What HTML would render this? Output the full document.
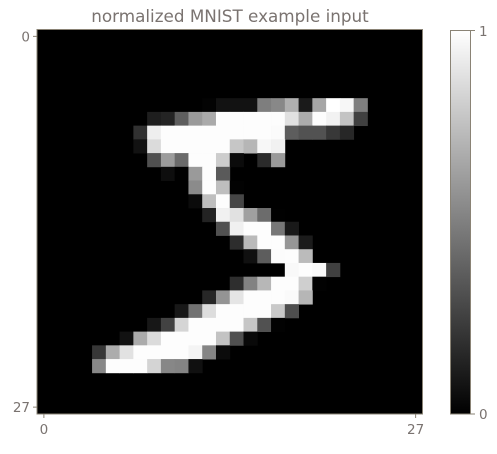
<!DOCTYPE html>
<html><head><meta charset="utf-8"><style>
body{margin:0;background:#fff;}
svg text{font-family:"DejaVu Sans","Liberation Sans",sans-serif;fill:#7a7370;font-size:13.5px;}
</style></head><body>
<svg id="chart" width="497" height="449" xmlns="http://www.w3.org/2000/svg">
<defs><linearGradient id="cb" x1="0" y1="1" x2="0" y2="0"><stop offset="0" stop-color="#000"/><stop offset="1" stop-color="#fff"/></linearGradient></defs>
<text x="230" y="22" text-anchor="middle" style="font-size:16.8px">normalized MNIST example input</text>
<g id="cells"></g>
<rect x="37" y="29.5" width="385.5" height="384.5" fill="none" stroke="#8a8375" stroke-width="1"/>
<g id="axes"></g>
<rect x="450.5" y="30.5" width="20" height="383.5" fill="url(#cb)" stroke="#8a8375" stroke-width="1"/>
<line x1="470.5" y1="30.5" x2="475" y2="30.5" stroke="#8a8375"/>
<line x1="470.5" y1="414" x2="475" y2="414" stroke="#8a8375"/>
<text x="479" y="36">1</text>
<text x="479" y="419">0</text>
</svg>
<script>
const rowData = [
[],[],[],[],[],
[0,0,0,0,0,0,0,0,0,0,0,0,3,18,18,18,126,136,175,26,166,255,247,127],
[0,0,0,0,0,0,0,0,30,36,94,154,170,253,253,253,253,253,225,172,253,242,195,64],
[0,0,0,0,0,0,0,49,238,253,253,253,253,253,253,253,253,251,93,82,82,56,39],
[0,0,0,0,0,0,0,18,219,253,253,253,253,253,198,182,247,241],
[0,0,0,0,0,0,0,0,80,156,107,253,253,205,11,0,43,154],
[0,0,0,0,0,0,0,0,0,14,1,154,253,90],
[0,0,0,0,0,0,0,0,0,0,0,139,253,190,2],
[0,0,0,0,0,0,0,0,0,0,0,11,190,253,70],
[0,0,0,0,0,0,0,0,0,0,0,0,35,241,225,160,108,1],
[0,0,0,0,0,0,0,0,0,0,0,0,0,81,240,253,253,119,25],
[0,0,0,0,0,0,0,0,0,0,0,0,0,0,45,186,253,253,150,27],
[0,0,0,0,0,0,0,0,0,0,0,0,0,0,0,16,93,252,253,187],
[0,0,0,0,0,0,0,0,0,0,0,0,0,0,0,0,0,0,249,253,249,64],
[0,0,0,0,0,0,0,0,0,0,0,0,0,0,46,130,183,253,253,207,2],
[0,0,0,0,0,0,0,0,0,0,0,0,39,148,229,253,253,253,250,182],
[0,0,0,0,0,0,0,0,0,0,24,114,221,253,253,253,253,201,78],
[0,0,0,0,0,0,0,0,23,66,213,253,253,253,253,198,81,2],
[0,0,0,0,0,0,18,171,219,253,253,253,253,195,80,9],
[0,0,0,0,55,172,226,253,253,253,253,244,133,11],
[0,0,0,0,136,253,253,253,212,135,132,16],
[],[],[]
];
const xTicks = [0, 27];
const yTicks = [0, 27];
const N = 28, X0 = 37, Y0 = 29.5, W = 385.5, H = 384.5;
const cw = W / N, ch = H / N;
function xs(c){return X0 + c*cw;}
function ys(r){return Y0 + r*ch;}
const NS = "http://www.w3.org/2000/svg";
const cells = document.getElementById('cells');
const bg = document.createElementNS(NS,'rect');


bg.setAttribute('x', X0); bg.setAttribute('y', Y0); bg.setAttribute('width', W); bg.setAttribute('height', H); bg.setAttribute('fill', '#000');
cells.appendChild(bg);
rowData.forEach((row, r) => {
  row.forEach((v, c) => {
    if (!v) return;
    const g = Math.round(v);
    const el = document.createElementNS(NS,'rect');
    
    
    el.setAttribute('x', xs(c)); el.setAttribute('y', ys(r));
    el.setAttribute('width', cw + 0.4); el.setAttribute('height', ch + 0.4);
    el.setAttribute('fill', `rgb(${g},${g},${g})`);
    cells.appendChild(el);
  });
});
const axes = document.getElementById('axes');
xTicks.forEach(t => {
  const x = xs(t + 0.5);
  const l = document.createElementNS(NS,'line');
  
  
  l.setAttribute('x1', x); l.setAttribute('x2', x); l.setAttribute('y1', Y0 + H); l.setAttribute('y2', Y0 + H + 4); l.setAttribute('stroke', '#8a8375');
  axes.appendChild(l);
  const tx = document.createElementNS(NS,'text');
  
  
  tx.setAttribute('x', x); tx.setAttribute('y', Y0 + H + 20); tx.setAttribute('text-anchor', 'middle');
  tx.textContent = t;
  axes.appendChild(tx);
});
yTicks.forEach(t => {
  const y = ys(t + 0.5);
  const l = document.createElementNS(NS,'line');
  
  
  l.setAttribute('x1', X0 - 4); l.setAttribute('x2', X0); l.setAttribute('y1', y); l.setAttribute('y2', y); l.setAttribute('stroke', '#8a8375');
  axes.appendChild(l);
  const tx = document.createElementNS(NS,'text');
  
  
  tx.setAttribute('x', X0 - 7); tx.setAttribute('y', y + 5); tx.setAttribute('text-anchor', 'end');
  tx.textContent = t;
  axes.appendChild(tx);
});
</script>
</body></html>
